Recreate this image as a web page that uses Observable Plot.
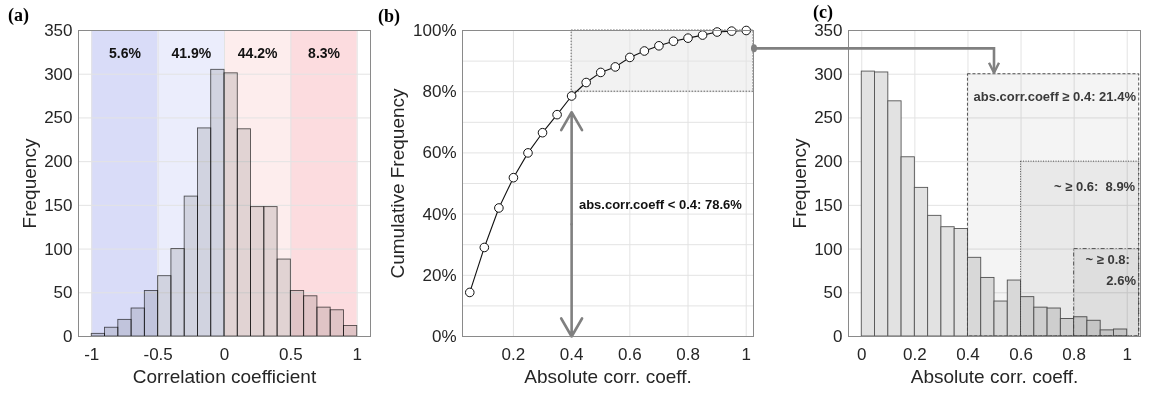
<!DOCTYPE html>
<html><head><meta charset="utf-8">
<script src="https://cdn.jsdelivr.net/npm/d3@7"></script>
<script src="https://cdn.jsdelivr.net/npm/@observablehq/plot@0.6"></script>
<style>
body{margin:0;background:#fff;}
#fig{position:relative;width:1152px;height:393px;overflow:hidden;font-family:"Liberation Sans",Arial,sans-serif;}
.panel{position:absolute;top:0;}
.tag{position:absolute;top:5px;line-height:1;font-family:"Liberation Serif","Times New Roman",serif;font-weight:bold;font-size:18px;color:#000;}
#overlay{position:absolute;left:0;top:0;pointer-events:none;}
</style></head><body><div id="fig"></div>
<script>
// ---------- Panel (a): correlation coefficient histogram ----------
const binStartA = [-1,-0.9,-0.8,-0.7,-0.6,-0.5,-0.4,-0.3,-0.2,-0.1,0,0.1,0.2,0.3,0.4,0.5,0.6,0.7,0.8,0.9];
const freqA = [3,10,19,32,52,69,100,160,238,305,301,237,148,148,88,52,46,33,30,12];
const binWidthA = 0.1;
const bandEdgesA = [-1,-0.5,0,0.5,1];
const bandColorsA = ["#d9dcf8","#ebedfc","#fdeded","#fcdcdf"];
const bandLabelsA = ["5.6%","41.9%","44.2%","8.3%"];
const xTicksA = [-1,-0.5,0,0.5,1];
const yTicksFreq = [0,50,100,150,200,250,300,350];

// ---------- Panel (b): cumulative frequency ----------
const absX = [0.05,0.1,0.15,0.2,0.25,0.3,0.35,0.4,0.45,0.5,0.55,0.6,0.65,0.7,0.75,0.8,0.85,0.9,0.95,1.0];
const cumFreq = [0.144,0.291,0.420,0.519,0.600,0.666,0.725,0.786,0.830,0.863,0.881,0.912,0.933,0.950,0.965,0.975,0.985,0.995,0.998,1.0];
const xTicksB = [0.2,0.4,0.6,0.8,1];
const yTicksB = [0,0.2,0.4,0.6,0.8,1];
const yGridB = [0,0.1,0.2,0.3,0.4,0.5,0.6,0.7,0.8,0.9,1];
const threshB = 0.4;
const shadeB = {y1: 0.8, y2: 1.0};
const arrowB = {y1: 0.0, y2: 0.733};
const textB = "abs.corr.coeff < 0.4: 78.6%";
const textBPos = {x: 0.425, y: 0.43};

// ---------- Panel (c): absolute correlation histogram ----------
const binStartC = [0,0.05,0.1,0.15,0.2,0.25,0.3,0.35,0.4,0.45,0.5,0.55,0.6,0.65,0.7,0.75,0.8,0.85,0.9,0.95];
const freqC = [303,302,269,205,170,138,125,123,90,67,40,64,45,33,32,20,22,18,7,8];
const binWidthC = 0.05;
const xTicksC = [0,0.2,0.4,0.6,0.8,1];
const regionX1 = [0.4,0.6,0.8];
const regionTop = [300,200,100];
const regionDash = ["3,2","1,1.5","4,2,1,2"];
const regionRight = 1.045;
const regionTexts = ["abs.corr.coeff \u2265 0.4: 21.4%","~ \u2265 0.6:  8.9%","~ \u2265 0.8:","2.6%"];
const regionTextX = [1.033,1.030,1.010,1.033];
const regionTextY = [274,171,88,64];

// connector (b -> c)
const connFromY = 0.94;
const connTo = {x: 0.5, y: 300};

const baseStyle = {fontFamily:"Liberation Sans, Arial, sans-serif", fontSize:"17px", color:"#262626", background:"transparent", overflow:"visible"};
const gridColor = "#e3e3e3";
const frameColor = "#8a8a8a";

const fig = document.getElementById("fig");
function place(el, left){ const d=document.createElement("div"); d.className="panel"; d.style.left=left+"px"; d.appendChild(el); fig.appendChild(d); }
function tag(txt, left, top){ const d=document.createElement("div"); d.className="tag"; d.style.left=left+"px"; d.style.top=top+"px"; d.textContent=txt; fig.appendChild(d); }
const fmt = d => String(d);
const xLabel = (t) => Plot.text([t],{text:d=>d,frameAnchor:"bottom",lineAnchor:"middle",dy:40,fontSize:19});
const yLabel = (t, dx) => Plot.text([t],{text:d=>d,frameAnchor:"left",textAnchor:"middle",lineAnchor:"middle",rotate:-90,dx,fontSize:19});

// ---- plot A
const barsA = binStartA.map((s,i)=>({x1:s, x2:+(s+binWidthA).toFixed(2), y:freqA[i]}));
const bandsA = bandColorsA.map((c,i)=>({x1:bandEdgesA[i], x2:bandEdgesA[i+1], color:c}));
const bandCenters = bandsA.map(b=>(b.x1+b.x2)/2);
const plotA = Plot.plot({
  width:380, height:393, marginLeft:78, marginRight:10, marginTop:30, marginBottom:57,
  x:{domain:[-1.1,1.1]}, y:{domain:[0,350]}, color:{type:"identity"},
  style: baseStyle,
  marks:[
    Plot.rect(bandsA,{x1:"x1",x2:"x2",y1:0,y2:350,fill:"color"}),
    Plot.gridY(yTicksFreq,{stroke:gridColor,strokeOpacity:1}),
    Plot.gridX(xTicksA,{stroke:gridColor,strokeOpacity:1}),
    Plot.rectY(barsA,{x1:"x1",x2:"x2",y:"y",fill:"#e3e3e3",stroke:"#555",strokeWidth:0.9,mixBlendMode:"multiply"}),
    Plot.text(bandLabelsA,{text:d=>d,x:(d,i)=>bandCenters[i],frameAnchor:"top",lineAnchor:"middle",dy:23,fontWeight:"bold",fontSize:14,fill:"#111"}),
    Plot.frame({stroke:frameColor}),
    Plot.axisX(xTicksA,{tickFormat:fmt,tickSize:0,tickPadding:11,label:null,fontSize:17}),
    Plot.axisY(yTicksFreq,{tickFormat:fmt,tickSize:0,tickPadding:6,label:null,fontSize:17}),
    xLabel("Correlation coefficient"),
    yLabel("Frequency", -49)
  ]
});

// ---- plot B
const ptsB = absX.map((x,i)=>({x, y:cumFreq[i]}));
const xDomB = [0.025,1.025];
const plotB = Plot.plot({
  width:400, height:393, marginLeft:82, marginRight:27, marginTop:30, marginBottom:57,
  x:{domain:xDomB}, y:{domain:[0,1]},
  style: baseStyle,
  marks:[
    Plot.rect([0],{x1:threshB,x2:xDomB[1],y1:shadeB.y1,y2:shadeB.y2,fill:"#f2f2f2"}),
    Plot.gridY(yGridB,{stroke:gridColor,strokeOpacity:1}),
    Plot.gridX(xTicksB,{stroke:gridColor,strokeOpacity:1}),
    Plot.rect([0],{x1:threshB,x2:xDomB[1],y1:shadeB.y1,y2:shadeB.y2,fill:"none",stroke:"#555",strokeDasharray:"1.5,1.5",strokeWidth:0.9}),
    Plot.arrow([0],{x1:threshB,x2:threshB,y1:(arrowB.y1+arrowB.y2)/2,y2:arrowB.y2,stroke:"#808080",strokeWidth:2.6,headLength:12,bend:0}),
    Plot.arrow([0],{x1:threshB,x2:threshB,y1:(arrowB.y1+arrowB.y2)/2,y2:arrowB.y1,stroke:"#808080",strokeWidth:2.6,headLength:12,bend:0}),
    Plot.line(ptsB,{x:"x",y:"y",stroke:"#111",strokeWidth:1.1}),
    Plot.dot(ptsB,{x:"x",y:"y",r:4.3,fill:"white",stroke:"#111",strokeWidth:1}),
    Plot.text([textB],{text:d=>d,x:textBPos.x,y:textBPos.y,textAnchor:"start",fontWeight:"bold",fontSize:13,fill:"#111"}),
    Plot.frame({stroke:frameColor}),
    Plot.axisX(xTicksB,{tickFormat:fmt,tickSize:0,tickPadding:11,label:null,fontSize:17}),
    Plot.axisY(yTicksB,{tickFormat:d=>Math.round(d*100)+"%",tickSize:0,tickPadding:6,label:null,fontSize:17}),
    xLabel("Absolute corr. coeff."),
    yLabel("Cumulative Frequency", -65)
  ]
});

// ---- plot C
const barsC = binStartC.map((s,i)=>({x1:s, x2:+(s+binWidthC).toFixed(3), y:freqC[i]}));
const regions = regionX1.map((x1,i)=>({x1, x2:regionRight, y2:regionTop[i], dash:regionDash[i]}));
const plotC = Plot.plot({
  width:382, height:393, marginLeft:78, marginRight:12, marginTop:30, marginBottom:57,
  x:{domain:[-0.05,1.05]}, y:{domain:[0,350]},
  style: baseStyle,
  marks:[
    Plot.gridY(yTicksFreq,{stroke:gridColor,strokeOpacity:1}),
    Plot.gridX(xTicksC,{stroke:gridColor,strokeOpacity:1}),
    Plot.rectY(barsC,{x1:"x1",x2:"x2",y:"y",fill:"#e2e2e2",stroke:"#555",strokeWidth:0.9}),
    ...regions.map(r=>Plot.rect([r],{x1:"x1",x2:"x2",y1:0,y2:"y2",fill:"#000",fillOpacity:0.045,stroke:"#444",strokeWidth:0.9,strokeDasharray:r.dash})),
    Plot.text(regionTexts,{text:d=>d,x:(d,i)=>regionTextX[i],y:(d,i)=>regionTextY[i],textAnchor:"end",fontWeight:"bold",fontSize:13,fill:"#3a3a3a"}),
    Plot.frame({stroke:frameColor}),
    Plot.axisX(xTicksC,{tickFormat:fmt,tickSize:0,tickPadding:11,label:null,fontSize:17}),
    Plot.axisY(yTicksFreq,{tickFormat:fmt,tickSize:0,tickPadding:6,label:null,fontSize:17}),
    xLabel("Absolute corr. coeff."),
    yLabel("Frequency", -49)
  ]
});

const leftA = 0, leftB = 380, leftC = 770;
place(plotA, leftA); place(plotB, leftB); place(plotC, leftC);
tag("(a)", 8, 6); tag("(b)", 378, 7); tag("(c)", 813, 3);

// ---- connector overlay computed from the plots' scales
const sx = leftB + plotB.scale("x").apply(xDomB[1]) + 1;
const sy = plotB.scale("y").apply(connFromY);
const ex = leftC + plotC.scale("x").apply(connTo.x);
const ey = plotC.scale("y").apply(connTo.y);
const ov = d3.select(fig).append("svg").attr("id","overlay").attr("width",1152).attr("height",393);
ov.append("path").attr("d",`M${sx},${sy}H${ex}V${ey-1}`).attr("fill","none").attr("stroke","#808080").attr("stroke-width",2.6);
ov.append("path").attr("d",`M${ex-5},${ey-11}L${ex},${ey-1}L${ex+5},${ey-11}`).attr("fill","none").attr("stroke","#808080").attr("stroke-width",2.4).attr("stroke-linejoin","round");
ov.append("ellipse").attr("cx",sx).attr("cy",sy).attr("rx",3).attr("ry",4).attr("fill","#808080");
</script></body></html>
